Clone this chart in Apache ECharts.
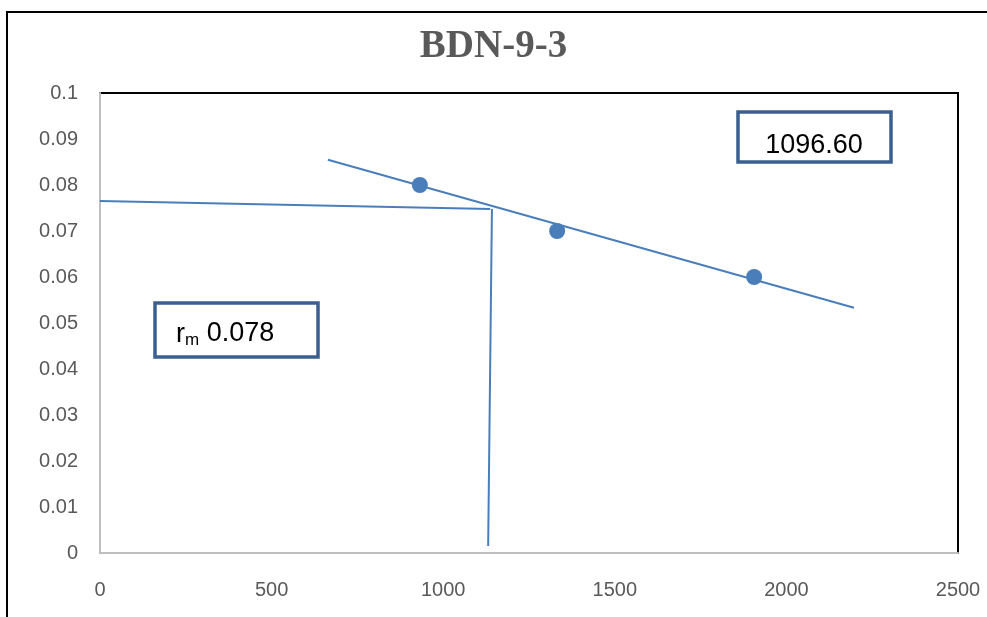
<!DOCTYPE html>
<html>
<head>
<meta charset="utf-8">
<script src="https://cdn.jsdelivr.net/npm/echarts@6/dist/echarts.min.js"></script>
<style>html,body{margin:0;padding:0;background:#fff}#c{width:987px;height:617px}</style>
</head>
<body>
<div id="c"></div>
<script>
// Data
const points = [[932, 0.080], [1332, 0.070], [1906, 0.060]];
const trendLine = [[664, 0.0855], [2197, 0.0533]];
const horizLine = [[0, 0.0765], [1137, 0.0748]];
const vertLine = [[1142, 0.0748], [1131, 0.0015]];
const xTicks = [0, 500, 1000, 1500, 2000, 2500];
const yTicks = [0, 0.01, 0.02, 0.03, 0.04, 0.05, 0.06, 0.07, 0.08, 0.09, 0.1];
const titleText = 'BDN-9-3';
const valueBoxText = '1096.60';
const rmBoxValue = '0.078';

const blue = '#4a7ebb';
const boxBlue = '#3b5f8f';
const labelGray = '#595959';

const chart = echarts.init(document.getElementById('c'), null, {renderer: 'canvas'});
const lineSeries = (data) => ({
  type: 'line', data: data, symbol: 'none', silent: true,
  lineStyle: {color: blue, width: 2}, z: 3
});
chart.setOption({
  animation: false,
  backgroundColor: '#fff',
  title: {
    text: titleText, left: 'center', top: 22,
    textStyle: {fontFamily: 'Liberation Serif', fontWeight: 'bold', fontSize: 39, color: labelGray}
  },
  grid: {left: 100, right: 29, top: 93, bottom: 64, show: true, borderColor: '#000', borderWidth: 2, backgroundColor: 'transparent'},
  xAxis: {
    type: 'value', min: xTicks[0], max: xTicks[xTicks.length - 1], interval: 500,
    axisLine: {show: true, onZero: false, lineStyle: {color: '#bfbfbf', width: 2}},
    axisTick: {show: false}, splitLine: {show: false},
    axisLabel: {color: labelGray, fontFamily: 'Liberation Sans', fontSize: 20, margin: 27,
      formatter: v => String(v)}
  },
  yAxis: {
    type: 'value', min: yTicks[0], max: yTicks[yTicks.length - 1], interval: 0.01,
    axisLine: {show: true, onZero: false, lineStyle: {color: '#bfbfbf', width: 2}},
    axisTick: {show: false}, splitLine: {show: false},
    axisLabel: {color: labelGray, fontFamily: 'Liberation Sans', fontSize: 20, margin: 22,
      formatter: v => String(Math.round(v * 100) / 100)}
  },
  series: [
    lineSeries(trendLine),
    lineSeries(horizLine),
    lineSeries(vertLine),
    {type: 'scatter', data: points, symbol: 'circle', symbolSize: 16, itemStyle: {color: blue, opacity: 1}, z: 4}
  ],
  graphic: [
    {type: 'polyline', shape: {points: [[7, 617], [7, 12], [987, 12]]}, style: {stroke: '#000', lineWidth: 2, fill: null}, z: 10},
    {type: 'rect', shape: {x: 738, y: 112, width: 153, height: 50}, style: {stroke: boxBlue, lineWidth: 3.5, fill: '#fff'}, z: 10},
    {type: 'text', x: 814, y: 146, style: {text: valueBoxText, fontFamily: 'Liberation Sans', fontSize: 27, fill: '#000', align: 'center', verticalAlign: 'middle'}, z: 11},
    {type: 'rect', shape: {x: 155, y: 303, width: 163, height: 54}, style: {stroke: boxBlue, lineWidth: 3.5, fill: '#fff'}, z: 10},
    {type: 'text', x: 176, y: 334, style: {
      text: '{r|r}{m|m} {v|' + rmBoxValue + '}',
      rich: {
        r: {fontFamily: 'Liberation Sans', fontSize: 27, fill: '#000', verticalAlign: 'bottom'},
        m: {fontFamily: 'Liberation Sans', fontSize: 17, fill: '#000', padding: [12, 0, 0, 0]},
        v: {fontFamily: 'Liberation Sans', fontSize: 27, fill: '#000'}
      },
      fontFamily: 'Liberation Sans', fontSize: 27, fill: '#000', align: 'left', verticalAlign: 'middle'}, z: 11}
  ]
});
</script>
</body>
</html>
